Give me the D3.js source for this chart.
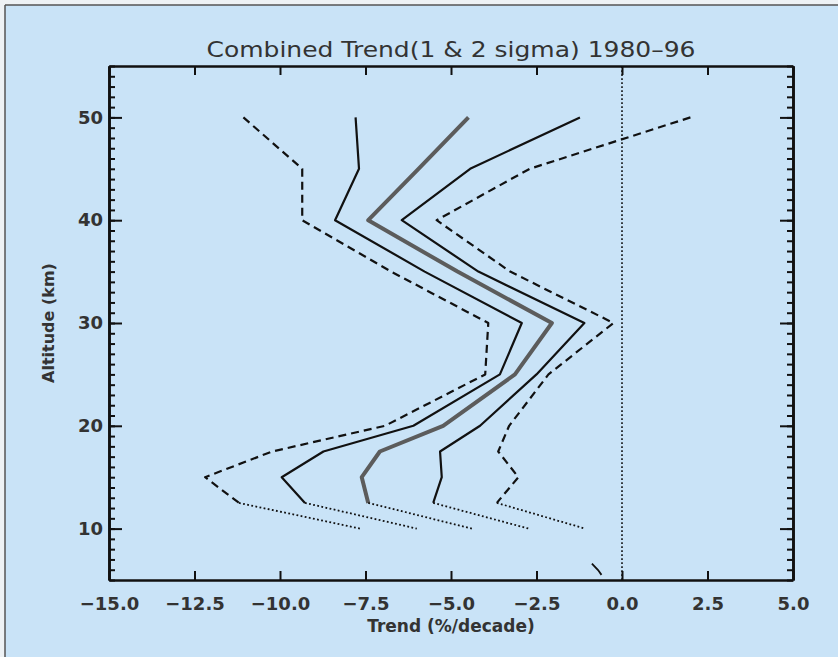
<!DOCTYPE html>
<html>
<head>
<meta charset="utf-8">
<script src="https://d3js.org/d3.v7.min.js"></script>
<style>
  body { margin: 0; background: #f4f6f8; }
  svg { display: block; }
  .tick text { font-family: "DejaVu Sans", sans-serif; font-weight: bold; font-size: 18px; fill: #333; }
</style>
</head>
<body>
<div id="chart"></div>
<script>

// altitude levels (km) of the profile points
const altitudes = [50, 45, 40, 35, 30, 25, 20, 17.5, 15, 12.5];
// trend values (%/decade) at each altitude
const low2  = [-11.07, -9.35, -9.35, -6.75, -3.91, -4.0, -6.93, -10.23, -12.19, -11.2];
const low1  = [-7.79, -7.69, -8.39, -5.77, -2.93, -3.57, -6.1, -8.73, -9.95, -9.27];
const mean  = [-4.49, -5.95, -7.42, -4.81, -2.05, -3.13, -5.23, -7.08, -7.61, -7.42];
const high1 = [-1.23, -4.44, -6.44, -4.2, -1.1, -2.5, -4.15, -5.32, -5.27, -5.52];
const high2 = [2.0, -2.7, -5.42, -3.27, -0.25, -2.15, -3.3, -3.62, -3.03, -3.66];
// dotted extension down to 10 km
const extAlt = 10;
const ext = [-7.66, -6.0, -4.39, -2.73, -1.08];
// small stray stroke near the bottom
const strayX = [-0.88, -0.7, -0.6];
const strayY = [6.6, 5.97, 5.5];

const xTicks = [-15, -12.5, -10, -7.5, -5, -2.5, 0, 2.5, 5];
const yTicks = [10, 20, 30, 40, 50];

const w = 838, h = 657;
const pLeft = 109, pRight = 793, pTop = 66, pBottom = 580;

const x = d3.scaleLinear().domain([-15, 5]).range([pLeft, pRight]);
const y = d3.scaleLinear().domain([5, 55]).range([pBottom, pTop]);

const svg = d3.select("#chart").append("svg")
  .attr("width", w).attr("height", h);

// scanned panel background with its frame
svg.append("rect").attr("x", 0).attr("y", 0).attr("width", w).attr("height", h).attr("fill", "#eef2f5");
svg.append("rect").attr("x", 5).attr("y", 5).attr("width", w - 5).attr("height", h - 5).attr("fill", "#c9e3f7");
svg.append("line").attr("x1", 5).attr("x2", w).attr("y1", 5).attr("y2", 5).attr("stroke", "#555").attr("stroke-width", 1.5);
svg.append("line").attr("x1", 5).attr("x2", 5).attr("y1", 5).attr("y2", h).attr("stroke", "#555").attr("stroke-width", 1.5);

// zero line
svg.append("line")
  .attr("x1", x(0)).attr("x2", x(0)).attr("y1", y(5)).attr("y2", y(55))
  .attr("stroke", "#111").attr("stroke-width", 1.6).attr("stroke-dasharray", "1.8,2.2");

const line = d3.line().x(d => x(d[0])).y(d => y(d[1]));

const series = [
  { v: low2,  dash: "8,5", color: "#111", width: 2.2 },
  { v: low1,  dash: null,  color: "#111", width: 2.2 },
  { v: mean,  dash: null,  color: "#5c5c5c", width: 4 },
  { v: high1, dash: null,  color: "#111", width: 2.2 },
  { v: high2, dash: "8,5", color: "#111", width: 2.2 }
];

series.forEach((s, i) => {
  const pts = s.v.map((v, j) => [v, altitudes[j]]);
  svg.append("path")
    .attr("d", line(pts))
    .attr("fill", "none")
    .attr("stroke", s.color)
    .attr("stroke-width", s.width)
    .attr("stroke-linejoin", "round")
    .attr("stroke-dasharray", s.dash);
  // dotted part below 12.5 km
  svg.append("path")
    .attr("d", line([pts[pts.length - 1], [ext[i], extAlt]]))
    .attr("fill", "none")
    .attr("stroke", "#111")
    .attr("stroke-width", 1.8)
    .attr("stroke-dasharray", "1.8,2.4");
});

svg.append("path")
  .attr("d", line(strayX.map((v, j) => [v, strayY[j]])))
  .attr("fill", "none").attr("stroke", "#111").attr("stroke-width", 1.8);

// axes, ticks pointing inward like the original
const fmtX = d3.format(".1f");

svg.append("g")
  .attr("transform", "translate(0," + pBottom + ")")
  .call(d3.axisBottom(x).tickValues(xTicks).tickFormat(fmtX).tickSizeInner(-9).tickSizeOuter(0).tickPadding(17));

svg.append("g")
  .attr("transform", "translate(0," + pTop + ")")
  .call(d3.axisTop(x).tickValues(xTicks).tickFormat("").tickSizeInner(-9).tickSizeOuter(0));

svg.append("g")
  .attr("transform", "translate(" + pLeft + ",0)")
  .call(d3.axisLeft(y).tickValues(yTicks).tickFormat(d3.format("d")).tickSizeInner(-13).tickSizeOuter(0).tickPadding(6));

svg.append("g")
  .attr("transform", "translate(" + pLeft + ",0)")
  .call(d3.axisLeft(y).tickValues(d3.range(5, 56)).tickFormat("").tickSizeInner(-6).tickSizeOuter(0));

svg.append("g")
  .attr("transform", "translate(" + pRight + ",0)")
  .call(d3.axisRight(y).tickValues(yTicks).tickFormat("").tickSizeInner(-13).tickSizeOuter(0));

svg.append("g")
  .attr("transform", "translate(" + pRight + ",0)")
  .call(d3.axisRight(y).tickValues(d3.range(5, 56)).tickFormat("").tickSizeInner(-6).tickSizeOuter(0));

svg.selectAll(".domain").attr("stroke", "#111").attr("stroke-width", 2.6);
svg.selectAll(".tick line").attr("stroke", "#111").attr("stroke-width", 2);

// title
svg.append("text")
  .attr("x", (pLeft + pRight) / 2).attr("y", 57)
  .attr("text-anchor", "middle")
  .attr("textLength", 489).attr("lengthAdjust", "spacingAndGlyphs")
  .style("font-family", "DejaVu Sans, sans-serif").style("font-size", "22px").style("fill", "#333")
  .text("Combined Trend(1 & 2 sigma) 1980\u201396");

// x axis title
svg.append("text")
  .attr("x", (pLeft + pRight) / 2).attr("y", 632)
  .attr("text-anchor", "middle")
  .style("font-family", "DejaVu Sans, sans-serif").style("font-weight", "bold").style("font-size", "17px").style("fill", "#333")
  .text("Trend (%/decade)");

// y axis title
svg.append("text")
  .attr("transform", "translate(54," + ((pTop + pBottom) / 2) + ") rotate(-90)")
  .attr("text-anchor", "middle")
  .style("font-family", "DejaVu Sans, sans-serif").style("font-weight", "bold").style("font-size", "16px").style("fill", "#333")
  .text("Altitude (km)");

</script>
</body>
</html>
